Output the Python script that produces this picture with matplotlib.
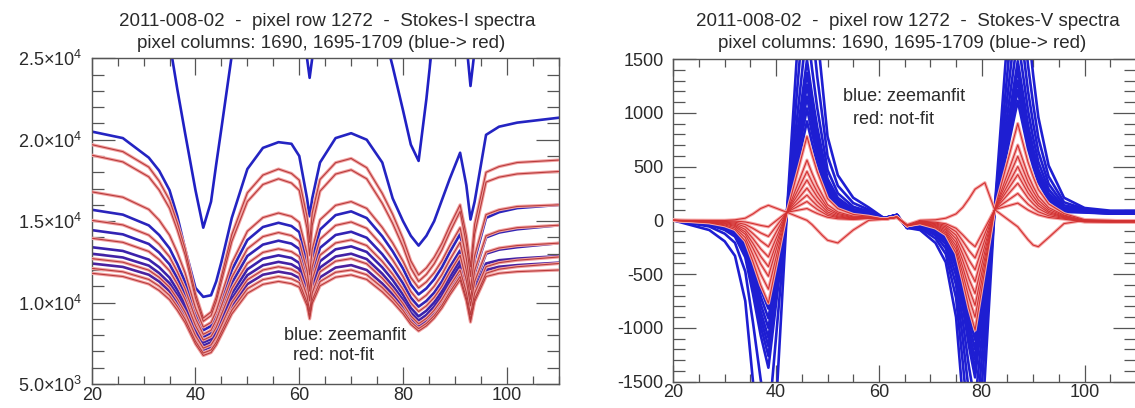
import numpy as np
import matplotlib
matplotlib.use('Agg')
import matplotlib.pyplot as plt
from matplotlib.ticker import MultipleLocator, FixedLocator, FixedFormatter

plt.rcParams['font.family'] = ['Liberation Sans', 'DejaVu Sans']
plt.rcParams['mathtext.fontset'] = 'custom'
plt.rcParams['mathtext.rm'] = 'Liberation Sans'
plt.rcParams['axes.unicode_minus'] = False

# ---------------- Stokes-I spectra (counts / 1000) ----------------
x_i = [20, 26, 31, 33, 35, 36.5, 38, 40, 41.5, 43, 44, 45, 47, 50, 53, 56, 58.5, 60, 61.5, 62, 62.5,
       64, 67, 70, 73, 76, 78, 80, 81.5, 83, 84.5, 86, 87.5, 89, 91, 92.2, 93, 93.8, 96, 98.5, 102, 110]

i_fit_a = [32, 32, 31, 29, 26.0, 23.1, 20.4, 16.9, 14.6, 16.2, 18.5, 20.7, 25.2, 28, 29, 29, 28.8, 28, 25.0, 23.8, 25.0,
           28, 29.5, 30, 29.5, 27, 24.5, 21.8, 19.7, 18.7, 22.5, 27, 28.5, 29, 29, 26, 23.3, 25.5, 31, 31.5, 32, 32]
i_fit_b = [20.5, 20.1, 18.9, 18.1, 16.9, 15.3, 13.3, 10.9, 10.35, 10.45, 11.3, 12.5, 15.2, 18.2, 19.5, 19.85, 19.75, 19.0, 16.4, 15.3, 16.4,
           18.6, 20.1, 20.4, 20.0, 18.6, 16.4, 15.0, 14.1, 13.5, 14.1, 15.0, 16.3, 17.6, 19.2, 17.2, 15.1, 16.2, 20.3, 20.8, 21.05, 21.35]
i_fit_c = [15.7, 15.40, 14.74, 14.15, 13.33, 12.37, 11.26, 9.34, 8.3, 8.56, 9.22, 10.15, 12.00, 13.84, 14.64, 14.9, 14.70, 14.33, 12.43, 11.1, 12.68,
           14.48, 15.37, 15.6, 15.19, 14.07, 13.15, 12.08, 11.11, 10.5, 10.87, 11.43, 12.17, 13.09, 14.2, 12.35, 10.5, 12.62, 15.2, 15.55, 15.8, 16.0]
i_fit_d = [14.45, 14.19, 13.60, 13.07, 12.35, 11.50, 10.52, 8.82, 7.9, 8.14, 8.73, 9.55, 11.20, 12.86, 13.56, 13.8, 13.62, 13.29, 11.59, 10.4, 11.78,
           13.36, 14.15, 14.35, 13.98, 12.97, 12.14, 11.18, 10.30, 9.75, 10.10, 10.61, 11.30, 12.17, 13.2, 11.6, 10.0, 11.8, 14.0, 14.3, 14.5, 14.75]
i_fit_e = [13.4, 13.17, 12.64, 12.17, 11.53, 10.77, 9.89, 8.37, 7.55, 7.76, 8.30, 9.05, 10.55, 12.04, 12.69, 12.9, 12.74, 12.43, 10.89, 9.8, 11.08,
           12.54, 13.27, 13.45, 13.11, 12.16, 11.39, 10.48, 9.67, 9.15, 9.50, 10.01, 10.70, 11.57, 12.6, 11.1, 9.6, 11.13, 13.0, 13.25, 13.4, 13.65]
i_fit_f = [13.0, 12.77, 12.27, 11.81, 11.19, 10.46, 9.61, 8.14, 7.35, 7.56, 8.07, 8.79, 10.23, 11.68, 12.29, 12.5, 12.35, 12.06, 10.62, 9.6, 10.79,
           12.15, 12.83, 13.0, 12.67, 11.77, 11.03, 10.17, 9.39, 8.9, 9.24, 9.75, 10.43, 11.28, 12.3, 10.85, 9.4, 10.75, 12.4, 12.6, 12.7, 12.85]
i_fit_g = [12.4, 12.19, 11.71, 11.29, 10.70, 10.02, 9.22, 7.84, 7.1, 7.29, 7.77, 8.44, 9.79, 11.13, 11.71, 11.9, 11.76, 11.51, 10.21, 9.3, 10.35,
           11.55, 12.15, 12.3, 12.00, 11.17, 10.50, 9.71, 9.00, 8.55, 8.88, 9.36, 10.01, 10.83, 11.8, 10.45, 9.1, 10.41, 12.0, 12.2, 12.3, 12.45]

i_nofit_a = [19.7, 19.27, 18.32, 17.46, 16.29, 14.91, 13.31, 10.54, 9.05, 9.42, 10.33, 11.61, 14.17, 16.74, 17.83, 18.2, 17.93, 17.52, 15.28, 13.7, 15.50,
             17.56, 18.59, 18.85, 18.28, 16.70, 15.42, 13.92, 12.56, 11.7, 12.13, 12.78, 13.64, 14.71, 16.0, 14.1, 12.2, 14.81, 18.0, 18.35, 18.6, 18.75]
i_nofit_b = [19.05, 18.64, 17.72, 16.91, 15.79, 14.46, 12.93, 10.28, 8.85, 9.20, 10.08, 11.30, 13.75, 16.20, 17.25, 17.6, 17.34, 16.89, 14.55, 12.9, 14.74,
             16.84, 17.89, 18.15, 17.60, 16.09, 14.86, 13.42, 12.12, 11.3, 11.73, 12.38, 13.24, 14.31, 15.6, 13.6, 11.6, 14.21, 17.4, 17.7, 17.9, 18.05]
i_nofit_c = [16.8, 16.47, 15.72, 15.06, 14.14, 13.07, 11.82, 9.66, 8.5, 8.78, 9.48, 10.46, 12.42, 14.38, 15.22, 15.5, 15.29, 14.93, 13.03, 11.7, 13.28,
             15.08, 15.97, 16.2, 15.78, 14.61, 13.66, 12.54, 11.54, 10.9, 11.27, 11.83, 12.57, 13.49, 14.6, 12.7, 10.8, 12.87, 15.4, 15.7, 15.9, 16.0]
i_nofit_d = [15.05, 14.77, 14.14, 13.58, 12.81, 11.90, 10.85, 9.03, 8.05, 8.30, 8.93, 9.80, 11.55, 13.30, 14.05, 14.3, 14.11, 13.76, 11.96, 10.7, 12.19,
             13.89, 14.74, 14.95, 14.56, 13.49, 12.62, 11.60, 10.68, 10.1, 10.46, 11.0, 11.72, 12.62, 13.7, 11.95, 10.2, 11.96, 14.1, 14.4, 14.6, 14.75]
i_nofit_e = [13.95, 13.70, 13.14, 12.64, 11.95, 11.14, 10.20, 8.58, 7.7, 7.92, 8.48, 9.27, 10.84, 12.40, 13.08, 13.3, 13.13, 12.82, 11.22, 10.1, 11.41,
             12.91, 13.66, 13.85, 13.50, 12.53, 11.74, 10.81, 9.98, 9.45, 9.80, 10.31, 11.00, 11.87, 12.9, 11.35, 9.8, 11.29, 13.1, 13.35, 13.5, 13.65]
i_nofit_f = [12.7, 12.48, 11.99, 11.55, 10.94, 10.23, 9.40, 7.97, 7.2, 7.40, 7.90, 8.60, 10.00, 11.40, 12.00, 12.2, 12.05, 11.79, 10.41, 9.45, 10.59,
             11.89, 12.54, 12.7, 12.38, 11.50, 10.78, 9.94, 9.18, 8.7, 9.03, 9.53, 10.19, 11.01, 12.0, 10.63, 9.25, 10.58, 12.2, 12.45, 12.6, 12.8]
i_nofit_g = [12.1, 11.89, 11.42, 11.01, 10.44, 9.76, 8.98, 7.63, 6.9, 7.09, 7.56, 8.22, 9.53, 10.85, 11.41, 11.6, 11.46, 11.23, 10.01, 9.15, 10.15,
             11.29, 11.86, 12.0, 11.71, 10.92, 10.27, 9.52, 8.83, 8.4, 8.72, 9.20, 9.84, 10.64, 11.6, 10.28, 8.95, 10.23, 11.8, 12.05, 12.2, 12.4]
i_nofit_h = [11.8, 11.60, 11.14, 10.74, 10.18, 9.53, 8.77, 7.46, 6.75, 6.93, 7.39, 8.02, 9.30, 10.57, 11.12, 11.3, 11.16, 10.95, 9.81, 9.0, 9.95,
             11.03, 11.56, 11.7, 11.42, 10.66, 10.04, 9.32, 8.66, 8.25, 8.57, 9.04, 9.67, 10.46, 11.4, 10.10, 8.8, 10.06, 11.6, 11.8, 11.9, 12.0]

i_yticks = [5000, 10000, 15000, 20000, 25000]
i_yticklabels = [r'5.0$\times$10$^{3}$', r'1.0$\times$10$^{4}$', r'1.5$\times$10$^{4}$',
                 r'2.0$\times$10$^{4}$', r'2.5$\times$10$^{4}$']

# ---------------- Stokes-V spectra ----------------
x_v = [20, 27, 30, 32, 34, 35.5, 37, 38.5, 42.1, 46, 47, 48, 49, 50, 52, 55, 58, 61, 63.5, 65.5,
       68, 71, 73, 75, 76.3, 77.5, 78.7, 80.6, 82.5, 87, 88, 89, 90, 91, 93, 96, 100, 105, 110]

v_fit_1 = [0, -25, -53, -90, -205, -410, -640, -820, 75, 920, 718, 534, 386, 239, 129, 64, 58, 20, 50, -70,
           -33, -78, -144, -333, -611, -888, -1110, -505, 100, 1110, 888, 666, 500, 355, 189, 78, 73, 62, 62]
v_fit_2 = [0, -27, -59, -100, -228, -455, -710, -910, 75, 1040, 811, 603, 437, 270, 146, 73, 61, 20, 50, -70,
           -36, -84, -156, -360, -660, -960, -1200, -550, 100, 1210, 968, 726, 545, 387, 206, 85, 76, 64, 64]
v_fit_3 = [0, -30, -65, -110, -250, -500, -780, -1000, 75, 1150, 897, 667, 483, 299, 161, 81, 65, 20, 50, -70,
           -39, -90, -168, -387, -710, -1032, -1290, -595, 100, 1300, 1040, 780, 585, 416, 221, 91, 79, 66, 66]
v_fit_4 = [0, -33, -71, -120, -273, -545, -850, -1090, 75, 1260, 983, 731, 529, 328, 176, 88, 68, 20, 50, -70,
           -41, -97, -179, -414, -759, -1104, -1380, -640, 100, 1400, 1120, 840, 630, 448, 238, 98, 82, 68, 68]
v_fit_5 = [0, -35, -76, -129, -293, -585, -913, -1170, 75, 1370, 1069, 795, 575, 356, 192, 96, 71, 20, 50, -70,
           -44, -102, -190, -438, -803, -1168, -1460, -680, 100, 1480, 1184, 888, 666, 474, 252, 104, 84, 70, 70]
v_fit_6 = [0, -38, -82, -139, -315, -630, -983, -1260, 75, 1490, 1162, 864, 626, 387, 209, 104, 75, 20, 50, -70,
           -51, -119, -221, -510, -935, -1360, -1700, -800, 100, 1700, 1360, 1020, 765, 544, 289, 119, 91, 74, 74]
v_fit_7 = [0, -41, -89, -151, -343, -685, -1069, -1370, 75, 1800, 1404, 1044, 756, 468, 252, 126, 84, 20, 50, -70,
           -60, -140, -260, -600, -1100, -1600, -2000, -950, 100, 2000, 1600, 1200, 900, 640, 340, 140, 100, 80, 80]
v_fit_8 = [0, -57, -124, -209, -475, -950, -1482, -1900, 75, 2300, 1794, 1334, 966, 598, 322, 161, 99, 20, 50, -70,
           -72, -168, -312, -720, -1320, -1920, -2400, -1150, 100, 2400, 1920, 1440, 1080, 768, 408, 168, 105, 80, 80]
v_fit_9 = [0, -90, -195, -330, -750, -1500, -2340, -3000, 75, 3000, 2340, 1740, 1260, 780, 420, 210, 120, 20, 50, -70,
           -90, -210, -390, -900, -1650, -2400, -3000, -1450, 100, 3000, 2400, 1800, 1350, 960, 510, 210, 115, 90, 90]

v_nofit_1 = [0, -2, -4, -7, -15, -30, -47, -60, 75, 110, 86, 64, 46, 29, 15, 8, 18, 10, 30, -50,
             -7, -17, -32, -74, -135, -196, -245, -73, 100, 160, 128, 96, 72, 51, 27, 11, -15, -17, -17]
v_nofit_2 = [0, -5, -10, -17, -38, -75, -117, -150, 75, 175, 137, 102, 74, 46, 25, 12, 20, 10, 30, -50,
             -11, -25, -46, -105, -193, -280, -350, -125, 100, 250, 200, 150, 113, 80, 43, 18, -12, -15, -15]
v_nofit_3 = [0, -7, -16, -27, -61, -123, -191, -245, 75, 235, 183, 136, 99, 61, 33, 16, 22, 10, 30, -50,
             -14, -32, -60, -138, -253, -368, -460, -180, 100, 345, 276, 207, 155, 110, 59, 24, -10, -13, -13]
v_nofit_4 = [0, -10, -22, -37, -85, -170, -265, -340, 75, 300, 234, 174, 126, 78, 42, 21, 24, 10, 30, -50,
             -17, -40, -74, -171, -314, -456, -570, -235, 100, 425, 340, 255, 191, 136, 72, 30, -7, -11, -11]
v_nofit_5 = [0, -13, -28, -47, -108, -215, -335, -430, 75, 375, 293, 218, 158, 98, 53, 26, 26, 10, 30, -50,
             -20, -48, -88, -204, -374, -544, -680, -290, 100, 500, 400, 300, 225, 160, 85, 35, -5, -10, -10]
v_nofit_6 = [0, -16, -34, -57, -130, -260, -406, -520, 75, 455, 355, 264, 191, 118, 64, 32, 29, 10, 30, -50,
             -24, -55, -103, -237, -435, -632, -790, -345, 100, 595, 476, 357, 268, 190, 101, 42, -2, -8, -8]
v_nofit_7 = [0, -19, -42, -70, -160, -320, -499, -640, 75, 560, 437, 325, 235, 146, 78, 39, 32, 10, 30, -50,
             -27, -63, -117, -270, -495, -720, -900, -400, 100, 700, 560, 420, 315, 224, 119, 49, 1, -6, -6]
v_nofit_8 = [0, -23, -50, -85, -193, -385, -601, -770, 75, 780, 608, 452, 328, 203, 109, 55, 38, 10, 30, -50,
             -31, -71, -133, -306, -561, -816, -1020, -460, 100, 900, 720, 540, 405, 288, 153, 63, 7, -2, -2]
v_nofit_rev = [0, 0, 0, 5, 20, 60, 110, 140, 75, 0, -40, -90, -140, -185, -210, -90, 0, 10, 25, -40,
               0, 5, 20, 60, 120, 200, 290, 350, 100, -60, -120, -180, -230, -245, -160, -30, 0, 0, -10]

title_l1 = '2011-008-02  -  pixel row 1272  -  Stokes-{} spectra'
title_l2 = 'pixel columns: 1690, 1695-1709 (blue-> red)'

W, H = 1135, 408
fig = plt.figure(figsize=(W / 100, H / 100), dpi=100)
axI = fig.add_axes([91.7 / W, 1 - 384 / H, 467.0 / W, 325.7 / H])
axV = fig.add_axes([673.3 / W, 1 - 381.7 / H, 462.7 / W, 322.7 / H])

SP = '#555555'
TX = '#2a2a2a'
FS = 13


def style(ax, ymaj, ymin):
    ax.set_xlim(20, 110)
    ax.xaxis.set_major_locator(MultipleLocator(20))
    ax.xaxis.set_minor_locator(MultipleLocator(5))
    ax.yaxis.set_major_locator(MultipleLocator(ymaj))
    ax.yaxis.set_minor_locator(MultipleLocator(ymin))
    ax.tick_params(which='both', direction='in', top=True, right=True,
                   color=SP, labelcolor=TX, labelsize=FS, width=0.9)
    ax.tick_params(axis='y', which='major', length=16.5, pad=7)
    ax.tick_params(axis='y', which='minor', length=8.5)
    ax.tick_params(axis='x', which='major', length=12, pad=2)
    ax.tick_params(axis='x', which='minor', length=5.5)
    for s in ax.spines.values():
        s.set_color(SP)
        s.set_linewidth(1.0)


def red_line(ax, x, y, scale=1.0, core='#b83c3c', halo='#f2a2a2'):
    y = np.array(y) * scale
    ax.plot(x, y, color=halo, lw=2.3, zorder=3, solid_joinstyle='round')
    ax.plot(x, y, color=core, lw=0.8, zorder=4)


# --- Stokes-I panel
fits_i = [i_fit_a, i_fit_b, i_fit_c, i_fit_d, i_fit_e, i_fit_f, i_fit_g]
fit_cols_i = ['#2020c4', '#2424c2', '#2a24bc', '#3224b4', '#3a22ac', '#4222a6', '#4a22a0']
for y, c in zip(fits_i, fit_cols_i):
    axI.plot(x_i, np.array(y) * 1000, color=c, lw=1.9, zorder=2, solid_joinstyle='round')
nofits_i = [i_nofit_a, i_nofit_b, i_nofit_c, i_nofit_d, i_nofit_e, i_nofit_f, i_nofit_g, i_nofit_h]
for y in nofits_i:
    red_line(axI, x_i, y, 1000)

style(axI, 5000, 1000)
axI.set_ylim(5000, 25000)
axI.yaxis.set_major_locator(FixedLocator(i_yticks))
axI.yaxis.set_major_formatter(FixedFormatter(i_yticklabels))
axI.text(57.0, 8000, 'blue: zeemanfit', fontsize=FS, color=TX, va='center', ha='left')
axI.text(58.8, 6720, 'red: not-fit', fontsize=FS, color=TX, va='center', ha='left')

# --- Stokes-V panel
nofits_v = [v_nofit_1, v_nofit_2, v_nofit_3, v_nofit_4, v_nofit_5, v_nofit_6, v_nofit_7, v_nofit_8, v_nofit_rev]
fits_v = [v_fit_1, v_fit_2, v_fit_3, v_fit_4, v_fit_5, v_fit_6, v_fit_7, v_fit_8, v_fit_9]
for y in fits_v:
    axV.plot(x_v, y, color='#1e1ed2', lw=1.9, zorder=2)
for y in nofits_v:
    red_line(axV, x_v, y, 1.0, core='#d23232', halo='#f6a6a6')

style(axV, 500, 100)
axV.set_ylim(-1500, 1500)
axV.text(53.0, 1147, 'blue: zeemanfit', fontsize=FS, color=TX, va='center', ha='left')
axV.text(55.0, 933, 'red: not-fit', fontsize=FS, color=TX, va='center', ha='left')

# titles
for stokes, cx in [('I', 327), ('V', 908)]:
    fig.text(cx / W, 1 - 21 / H, title_l1.format(stokes), ha='center', va='center',
             fontsize=13.5, color=TX)
    fig.text((cx - 6) / W, 1 - 43 / H, title_l2, ha='center', va='center',
             fontsize=13.5, color=TX)

fig.savefig('out.png', dpi=100)
